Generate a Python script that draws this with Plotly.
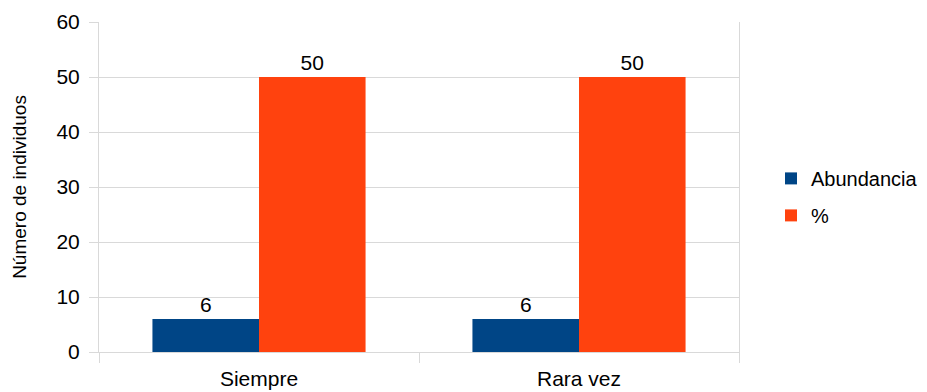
import plotly.graph_objects as go

categorias = ["Siempre", "Rara vez"]
abundancia = [6, 6]
porcentaje = [50, 50]
ticks_y = [0, 10, 20, 30, 40, 50, 60]

AZUL = "#004586"
NARANJA = "#ff420e"
GRIS = "#d9d9d9"
FUENTE = "Liberation Sans, Arial, sans-serif"

fig = go.Figure()
fig.add_trace(go.Bar(
    x=categorias, y=abundancia, name="Abundancia",
    marker=dict(color=AZUL, line=dict(width=0)),
    text=abundancia, textposition="outside", cliponaxis=False,
    textfont=dict(size=21, color="#000000", family=FUENTE),
    legendgroup="a",
))
fig.add_trace(go.Bar(
    x=categorias, y=porcentaje, name="%",
    marker=dict(color=NARANJA, line=dict(width=0)),
    text=porcentaje, textposition="outside", cliponaxis=False,
    textfont=dict(size=21, color="#000000", family=FUENTE),
    legendgroup="b",
))

fig.update_layout(
    width=927, height=392,
    margin=dict(l=99, r=188, t=22, b=40, autoexpand=False),
    paper_bgcolor="white", plot_bgcolor="white",
    barmode="group", bargap=0.334, bargroupgap=0,
    font=dict(family=FUENTE, size=21, color="#000000"),
    showlegend=True,
    legend=dict(
        x=1.05, y=0.47, xanchor="left", yanchor="middle",
        font=dict(size=20, family=FUENTE),
        tracegroupgap=8, itemwidth=30,
        bgcolor="rgba(0,0,0,0)",
    ),
)

fig.update_xaxes(
    showgrid=False, tickson="boundaries", ticks="outside", ticklen=10,
    tickcolor=GRIS, tickwidth=1, showline=True, linecolor=GRIS, linewidth=1,
    tickfont=dict(size=21, family=FUENTE), fixedrange=True, automargin=False,
    ticklabelstandoff=8,
)
fig.update_yaxes(
    range=[0, 60], tickvals=ticks_y, showgrid=True, gridcolor=GRIS, gridwidth=1,
    ticks="outside", ticklen=9, tickcolor=GRIS, tickwidth=1,
    showline=True, linecolor=GRIS, linewidth=1, mirror=True,
    zeroline=False, ticklabelstandoff=5, automargin=False,
    tickfont=dict(size=21, family=FUENTE),
    title=dict(text="Número de individuos", font=dict(size=19, family=FUENTE), standoff=24),
)

fig.write_html("out.html")
